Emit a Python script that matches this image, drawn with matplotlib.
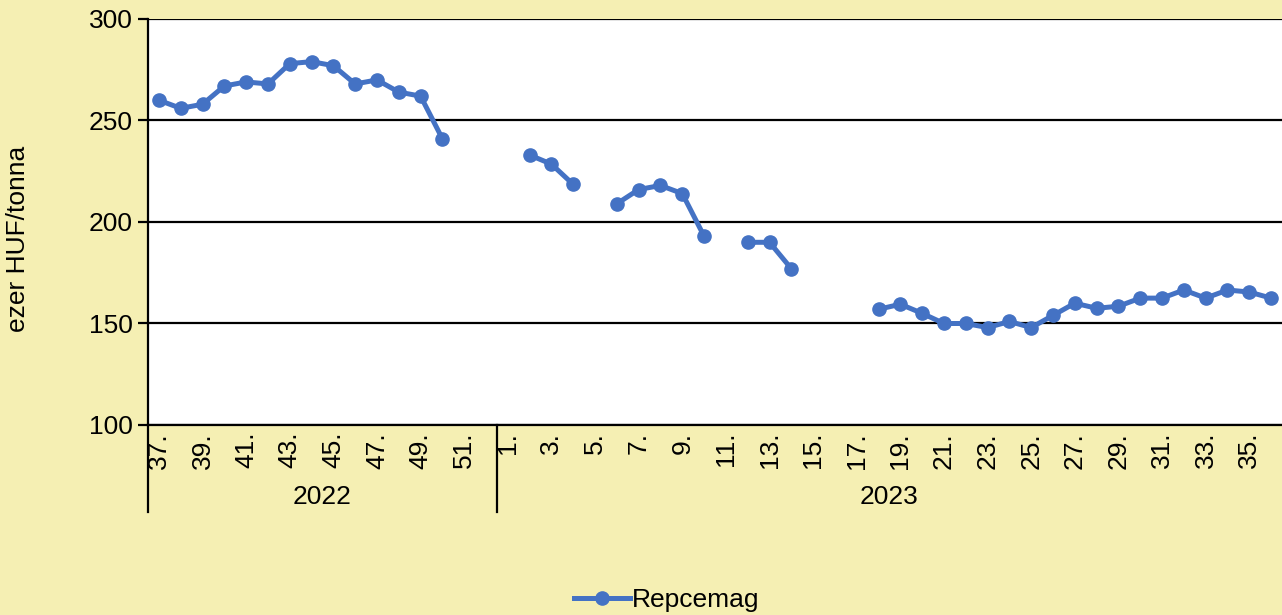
import numpy as np
import matplotlib
matplotlib.use("Agg")
import matplotlib.pyplot as plt
from matplotlib.lines import Line2D

plt.rcParams['font.family'] = ['Liberation Sans', 'DejaVu Sans']

weeks_2022 = list(range(37, 53))
weeks_2023 = list(range(1, 37))
values_2022 = [260, 256, 258, 267, 269, 268, 278, 279, 277, 268, 270, 264, 262, 241, np.nan, np.nan]
values_2023 = [np.nan, 233, 228.5, 218.5, np.nan, 209, 216, 218, 214, 193, np.nan, 190, 190, 177,
               np.nan, np.nan, np.nan, 157, 159.5, 155, 150, 150, 148, 151, 148, 154, 160, 157.5,
               158.5, 162.5, 162.5, 166.5, 162.5, 166.5, 165.5, 162.5]
years = ["2022", "2023"]
series_name = "Repcemag"
y_label = "ezer HUF/tonna"

week_labels = [f"{w}." for w in weeks_2022 + weeks_2023]
values = np.array(values_2022 + values_2023, dtype=float)
x = np.arange(len(values))

W, H = 1282, 615
fig = plt.figure(figsize=(W / 100, H / 100), dpi=100)
bg = '#F5EFB3'
fig.patch.set_facecolor(bg)
ax = fig.add_axes([148 / W, 1 - 425 / H, (W - 148) / W, (425 - 19) / H])
ax.set_facecolor('white')

blue = '#4472C4'
ax.plot(x, values, color=blue, lw=3.6, marker='o', ms=9.5, solid_capstyle='round', zorder=3)

ax.set_ylim(100, 300)
ax.set_yticks([100, 150, 200, 250, 300])
ax.set_xlim(-0.5, len(values) - 0.5)
ax.grid(axis='y', color='black', lw=1.6, zorder=1)
ax.set_axisbelow(True)
for s in ['top', 'right']:
    ax.spines[s].set_visible(False)
ax.spines['left'].set_linewidth(1.6)
ax.spines['bottom'].set_linewidth(1.6)

fs = 19
ax.tick_params(axis='y', labelsize=fs, length=7, width=1.6, pad=4)
ax.set_xticks(x[::2])
ax.set_xticklabels(week_labels[::2], rotation=90, fontsize=fs, va='top', ha='center')
ax.tick_params(axis='x', length=0, pad=5)

ax.set_ylabel(y_label, fontsize=fs)
ax.yaxis.set_label_coords(-118 / (W - 148), 0.5 - 17 / 406)

trans = ax.get_xaxis_transform()
n22 = len(weeks_2022)
bottom_y = -(512 - 425) / 406
for xb in [-0.5, n22 - 0.5]:
    ax.add_line(Line2D([xb, xb], [0, bottom_y], color='black', lw=1.6, transform=trans, clip_on=False))
year_y = -(497 - 425) / 406
ax.text((-0.5 + n22 - 0.5) / 2, year_y, years[0], transform=trans, ha='center', va='center', fontsize=fs)
ax.text((n22 - 0.5 + len(values) - 0.5) / 2, year_y, years[1], transform=trans, ha='center', va='center', fontsize=fs)

handle = Line2D([], [], color=blue, lw=3.6, marker='o', ms=9.5)
fig.legend([handle], [series_name], loc='center', bbox_to_anchor=(667 / W, 1 - 600 / H),
           frameon=False, fontsize=fs, handlelength=2.1, handletextpad=0.1)

fig.savefig('out.png', dpi=100, facecolor=bg)
